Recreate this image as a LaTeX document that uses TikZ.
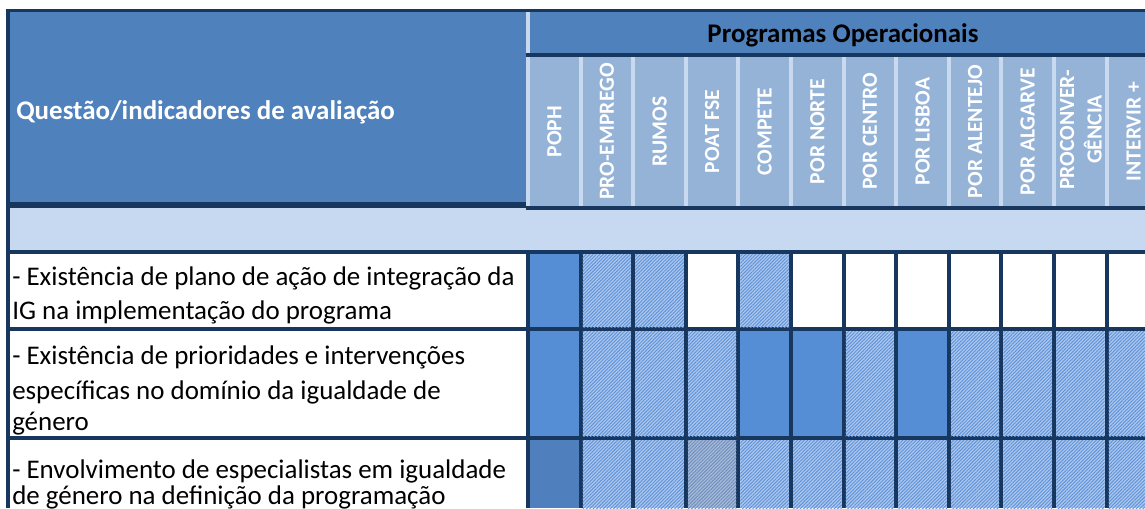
\documentclass[tikz,border=0pt]{standalone}
\usepackage{fontspec}
\setmainfont{Carlito}
\usetikzlibrary{patterns.meta}
\definecolor{hdr}{HTML}{4F81BD}
\definecolor{colhdr}{HTML}{95B3D7}
\definecolor{band}{HTML}{C6D9F1}
\definecolor{seplight}{HTML}{C9DAF0}
\definecolor{grid}{HTML}{17375E}
\definecolor{solidc}{HTML}{558ED5}
\definecolor{darkc}{HTML}{4F7FBC}
\definecolor{hatchbg}{HTML}{ADC6EC}
\definecolor{hatchln}{HTML}{5D93DA}
\definecolor{grayhbg}{HTML}{A6B9D6}
\definecolor{grayhln}{HTML}{6F8FC0}
\newcommand\tsz{\fontsize{20.2pt}{24pt}\selectfont}
\newcommand\csz{\fontsize{16.2pt}{20.6pt}\selectfont}
\tikzset{
  x=0.75pt, y=-0.75pt,
  rowtext/.style={anchor=base west, inner sep=0pt, font=\tsz, text=black},
  colname/.style={rotate=90, inner sep=0pt, font=\csz\bfseries, text=white, align=center},
  cS/.style={fill=solidc},
  cD/.style={fill=darkc},
  cW/.style={fill=white},
  cH/.style={fill=hatchbg, postaction={pattern={Lines[angle=45,distance=1.8pt,line width=0.7pt]}, pattern color=hatchln}},
  cG/.style={fill=grayhbg, postaction={pattern={Lines[angle=45,distance=1.8pt,line width=0.7pt]}, pattern color=grayhln}},
}
\begin{document}
\begin{tikzpicture}
\useasboundingbox (0,0) rectangle (1145,508);
\clip (0,0) rectangle (1145,508);
\fill[white] (0,0) rectangle (1145,508);
% outer frame
\fill[grid] (6,9) rectangle (1145,12);
\fill[grid] (6,9) rectangle (10,508);
% left header
\fill[hdr] (10,12) rectangle (526,202);
\fill[grid] (10,202) rectangle (526,208);
% right header band
\fill[seplight] (526,12) rectangle (530,206);
\fill[hdr] (530,12) rectangle (1145,53);
\fill[grid] (526,53) rectangle (1145,57);
\fill[seplight] (530,57) rectangle (1145,206);
\foreach \i in {0,...,11}{
  \pgfmathsetmacro\xa{526+52.6*\i+4}
  \pgfmathsetmacro\xb{526+52.6*(\i+1)}
  \fill[colhdr] (\xa,57) rectangle (\xb,206);
}
\fill[grid] (526,206) rectangle (1145,210);
% light band
\fill[band] (10,208) rectangle (526,250);
\fill[band] (526,210) rectangle (1145,250);
\fill[grid] (6,250) rectangle (1145,254);
% data rows
\fill[grid] (6,327) rectangle (1145,331);
\fill[grid] (6,436) rectangle (1145,440);
\fill[grid] (526,254) rectangle (1145,508);
\foreach \r/\ya/\yb/\cells in {1/254/327/{S,H,H,W,H,W,W,W,W,W,W,W},
                               2/331/436/{S,H,H,H,S,S,H,S,H,H,H,H},
                               3/440/508/{D,H,H,G,H,H,H,H,H,H,H,H}}{
  \foreach \c [count=\i from 0] in \cells {
    \pgfmathsetmacro\xa{526+52.6*\i+4}
    \pgfmathsetmacro\xb{526+52.6*(\i+1)}
    \path[c\c] (\xa,\ya) rectangle (\xb,\yb);
  }
}
% texts
\node[anchor=base west, inner sep=0pt, font=\tsz\bfseries, text=white] (q) at (16,119.5) {Questão/indicadores de avaliação};
\node[anchor=base, inner sep=0pt, font=\tsz\bfseries, text=black] (po) at (843,42) {Programas Operacionais};
\foreach \t [count=\i from 0] in {POPH,PRO-EMPREGO,RUMOS,POAT FSE,COMPETE,POR NORTE,POR CENTRO,POR LISBOA,POR ALENTEJO,POR ALGARVE}{
  \pgfmathsetmacro\xc{526+52.6*\i+4+24.3}
  \node[colname] (col\i) at (\xc,131.5) {\t};
}
\node[colname] (col10) at (1080.9,129.5) {PROCONVER-\\GÊNCIA};
\node[colname] (col11) at (1133.5,131.5) {INTERVIR +};
\node[rowtext] (r1a) at (12,285) {- Existência de plano de ação de integração da};
\node[rowtext] (r1b) at (12,319.5) {IG na implementação do programa};
\node[rowtext] (r2a) at (12,364.5) {- Existência de prioridades e intervenções};
\node[rowtext] (r2b) at (12,399.5) {específicas no domínio da igualdade de};
\node[rowtext] (r2c) at (12,430) {género};
\node[rowtext] (r3a) at (12,478) {- Envolvimento de especialistas em igualdade};
\node[rowtext] (r3b) at (12,504.5) {de género na definição da programação};
\end{tikzpicture}
\end{document}
